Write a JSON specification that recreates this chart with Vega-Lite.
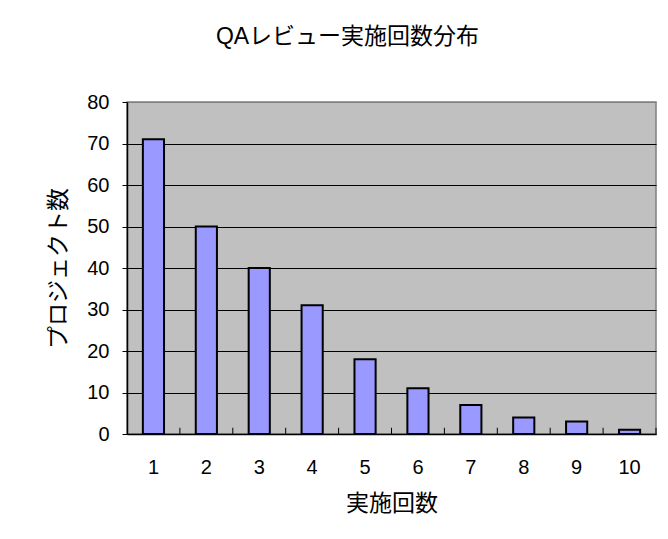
{
  "$schema": "https://vega.github.io/schema/vega-lite/v6.json",
  "width": 529,
  "height": 332,
  "autosize": "none",
  "padding": {"left": 127, "top": 102, "right": 12, "bottom": 105},
  "background": "white",
  "title": {
    "text": "QAレビュー実施回数分布",
    "font": "Liberation Sans, Noto Sans CJK JP",
    "fontSize": 23,
    "fontWeight": "normal",
    "color": "black",
    "anchor": "middle",
    "frame": "group",
    "dx": -44,
    "offset": 43
  },
  "data": {
    "values": [
      {"n": 1, "count": 71},
      {"n": 2, "count": 50},
      {"n": 3, "count": 40},
      {"n": 4, "count": 31},
      {"n": 5, "count": 18},
      {"n": 6, "count": 11},
      {"n": 7, "count": 7},
      {"n": 8, "count": 4},
      {"n": 9, "count": 3},
      {"n": 10, "count": 1}
    ]
  },
  "encoding": {
    "x": {
      "field": "n",
      "type": "ordinal",
      "sort": "ascending",
      "scale": {"paddingInner": 0.6, "paddingOuter": 0.3},
      "axis": {
        "title": "実施回数",
        "titleFont": "Liberation Sans, Noto Sans CJK JP",
        "titleFontSize": 23,
        "titleFontWeight": "normal",
        "titleColor": "black",
        "titlePadding": 15,
        "labelAngle": 0,
        "labelFont": "Liberation Sans, Noto Sans CJK JP",
        "labelFontSize": 20,
        "labelColor": "black",
        "labelPadding": 23,
        "ticks": false,
        "domainColor": "black",
        "domainWidth": 1.5,
        "grid": false
      }
    }
  },
  "layer": [
    {
      "mark": {"type": "bar", "fill": "#9999FF", "stroke": "black", "strokeWidth": 2},
      "encoding": {
        "y": {
          "field": "count",
          "type": "quantitative",
          "scale": {"domain": [0, 80], "nice": false},
          "axis": {
            "title": "プロジェクト数",
            "titleFont": "Liberation Sans, Noto Sans CJK JP",
            "titleFontSize": 23,
            "titleFontWeight": "normal",
            "titleColor": "black",
            "titlePadding": 16,
            "values": [0, 10, 20, 30, 40, 50, 60, 70, 80],
            "labelFont": "Liberation Sans, Noto Sans CJK JP",
            "labelFontSize": 20,
            "labelColor": "black",
            "labelPadding": 13,
            "tickSize": 5,
            "tickColor": "black",
            "domainColor": "black",
            "domainWidth": 1.5,
            "grid": true,
            "gridColor": {"condition": {"test": "datum.value === 80", "value": "#808080"}, "value": "black"},
            "gridWidth": 1,
            "gridOpacity": 1
          }
        }
      }
    },
    {
      "mark": {"type": "rule", "color": "black", "strokeWidth": 1},
      "encoding": {
        "x": {"field": "n", "type": "ordinal", "bandPosition": 1.75},
        "y": {"datum": 0},
        "y2": {"datum": 1.5}
      }
    }
  ],
  "config": {
    "view": {"fill": "#C0C0C0", "stroke": "#808080", "strokeWidth": 1.5}
  }
}
